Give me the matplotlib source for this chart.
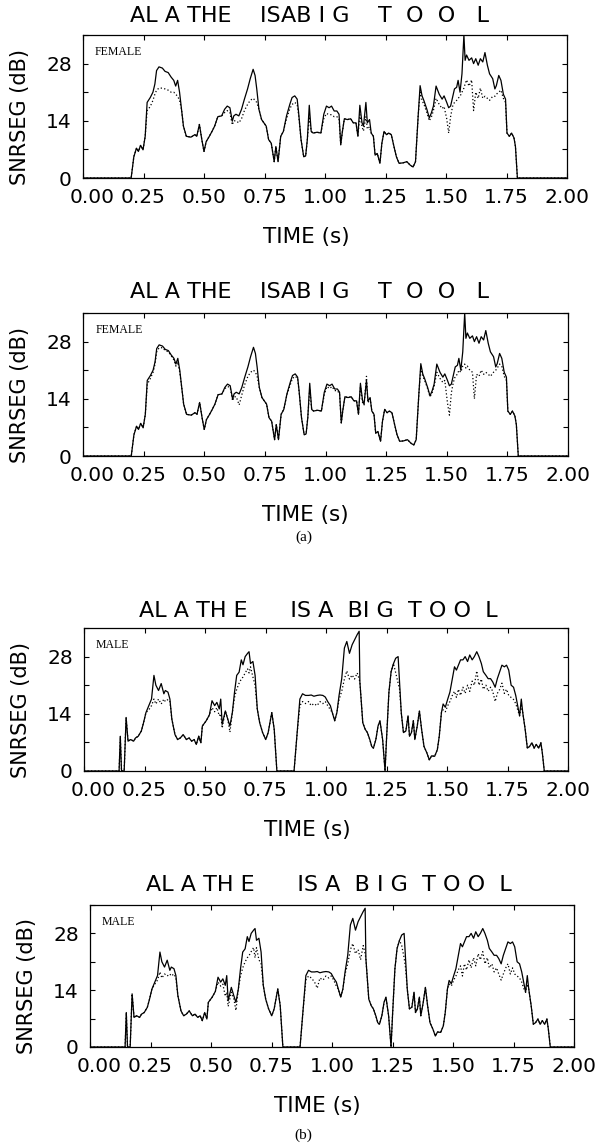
import matplotlib
matplotlib.use("Agg")
import matplotlib.pyplot as plt
from matplotlib.ticker import MultipleLocator
from matplotlib.transforms import ScaledTranslation

# ---------------- data ----------------
F_T = [0.000, 0.199, 0.210, 0.221, 0.229, 0.238, 0.248, 0.257, 0.265, 0.278,
       0.289, 0.297, 0.304, 0.314, 0.328, 0.339, 0.352, 0.364, 0.375, 0.383,
       0.391, 0.399, 0.407, 0.415, 0.427, 0.446, 0.462, 0.470, 0.481, 0.491,
       0.500, 0.509, 0.522, 0.533, 0.544, 0.557, 0.573, 0.585, 0.596, 0.607,
       0.617, 0.623, 0.632, 0.644, 0.655, 0.667, 0.680, 0.691, 0.703, 0.711,
       0.718, 0.727, 0.738, 0.757, 0.767, 0.778, 0.790, 0.797, 0.806, 0.817,
       0.828, 0.841, 0.855, 0.864, 0.875, 0.885, 0.891, 0.901, 0.912, 0.920,
       0.927, 0.935, 0.943, 0.951, 0.967, 0.983, 0.995, 1.006, 1.017, 1.027,
       1.038, 1.049, 1.058, 1.065, 1.071, 1.080, 1.093, 1.106, 1.117, 1.128,
       1.136, 1.144, 1.153, 1.159, 1.169, 1.175, 1.184, 1.191, 1.200, 1.207,
       1.216, 1.227, 1.235, 1.244, 1.254, 1.263, 1.274, 1.285, 1.295, 1.306,
       1.322, 1.338, 1.353, 1.364, 1.374, 1.385, 1.393, 1.401, 1.409, 1.421,
       1.431, 1.440, 1.448, 1.459, 1.472, 1.484, 1.492, 1.503, 1.511, 1.519,
       1.527, 1.535, 1.544, 1.550, 1.558, 1.566, 1.574, 1.579, 1.585, 1.595,
       1.606, 1.614, 1.623, 1.633, 1.642, 1.652, 1.661, 1.671, 1.680, 1.693,
       1.702, 1.708, 1.718, 1.727, 1.737, 1.746, 1.752, 1.762, 1.771, 1.781,
       1.787, 1.795, 2.000]

F_SOLID = [0, 0, 5.2, 7.3, 6.5, 8.0, 6.9, 10.2, 18.5, 19.7,
           21.0, 23.0, 26.3, 27.2, 26.9, 26.1, 25.8, 24.7, 23.9, 22.5,
           23.9, 21.0, 16.8, 12.7, 10.2, 10.0, 10.6, 10.2, 13.1, 9.4,
           6.5, 8.9, 10.2, 11.4, 12.7, 15.0, 15.2, 16.8, 17.6, 17.2,
           13.9, 15.2, 15.6, 15.2, 16.8, 19.3, 21.8, 24.3, 26.6, 25.1,
           21.8, 16.8, 14.3, 12.7, 9.4, 8.5, 4.0, 7.7, 4.0, 10.2,
           11.4, 15.2, 18.1, 19.7, 20.1, 19.3, 16.0, 9.4, 5.2, 5.4,
           9.4, 17.8, 11.4, 11.0, 11.2, 11.0, 15.6, 17.6, 17.2, 17.6,
           16.4, 16.4, 15.6, 8.1, 11.0, 14.5, 14.3, 14.5, 13.5, 13.5,
           10.2, 17.8, 13.5, 12.7, 18.5, 13.5, 14.3, 11.0, 10.2, 5.6,
           6.0, 3.6, 8.5, 11.4, 10.6, 11.0, 10.6, 7.7, 5.2, 3.6,
           3.7, 4.0, 3.1, 2.7, 4.0, 15.2, 22.6, 20.1, 18.9, 16.8,
           14.7, 16.0, 17.6, 22.5, 20.5, 19.3, 20.1, 18.5, 17.2, 17.6,
           19.7, 21.8, 22.2, 23.9, 21.0, 25.5, 35.0, 28.8, 30.1, 28.8,
           29.4, 28.0, 29.2, 27.6, 29.2, 28.4, 30.7, 27.6, 25.5, 24.3,
           21.8, 22.6, 25.1, 23.9, 20.5, 19.3, 11.0, 10.2, 11.0, 9.8,
           7.7, 0, 0]

F1_DOT = [0, 0, 5.2, 7.3, 6.5, 8.0, 6.9, 10.2, 16.5, 17.5,
          19.0, 20.5, 21.5, 22.0, 22.0, 21.8, 21.5, 21.0, 21.0, 20.5,
          20.0, 19.0, 16.8, 12.7, 10.2, 10.0, 10.6, 10.2, 13.1, 9.4,
          6.5, 8.9, 10.2, 11.4, 12.7, 15.0, 15.2, 16.0, 16.5, 16.0,
          13.0, 14.0, 14.0, 13.5, 14.5, 16.5, 18.0, 19.0, 19.5, 19.0,
          18.5, 16.8, 14.3, 12.7, 9.4, 8.5, 4.0, 7.7, 4.0, 10.2,
          11.4, 14.5, 17.0, 18.0, 18.5, 18.0, 15.5, 9.4, 5.2, 5.4,
          9.4, 15.0, 11.4, 11.0, 11.2, 11.0, 14.5, 15.8, 15.5, 15.5,
          15.0, 15.0, 14.5, 8.1, 11.0, 14.5, 14.3, 14.5, 13.5, 13.5,
          10.2, 15.5, 12.5, 11.5, 15.0, 12.0, 12.5, 11.0, 10.2, 5.6,
          6.0, 3.6, 8.5, 11.4, 10.6, 11.0, 10.6, 7.7, 5.2, 3.6,
          3.7, 4.0, 3.1, 2.7, 4.0, 15.2, 21.0, 19.0, 18.0, 16.0,
          14.0, 15.0, 16.5, 19.5, 18.0, 17.0, 17.5, 14.5, 11.0, 15.0,
          17.5, 18.5, 19.0, 19.5, 20.0, 21.0, 22.0, 23.0, 24.0, 22.5,
          24.0, 16.5, 21.0, 19.5, 22.0, 19.5, 20.0, 19.5, 19.0, 20.0,
          20.0, 20.5, 21.0, 21.5, 19.5, 18.5, 11.0, 10.2, 11.0, 9.8,
          7.7, 0, 0]

F2_DOT = [0, 0, 5.2, 7.3, 6.5, 8.0, 6.9, 10.2, 17.5, 19.0,
          20.5, 22.5, 25.5, 26.5, 26.5, 25.8, 25.5, 24.5, 23.5, 22.0,
          23.0, 20.5, 16.8, 12.7, 10.2, 10.0, 10.6, 10.2, 13.1, 9.4,
          6.5, 8.9, 10.2, 11.4, 12.7, 15.0, 15.2, 16.5, 17.0, 16.8,
          13.5, 14.5, 14.5, 12.5, 15.0, 17.5, 19.5, 20.5, 21.0, 20.5,
          19.5, 16.8, 14.3, 12.7, 9.4, 8.5, 4.0, 7.7, 4.0, 10.2,
          11.4, 15.0, 17.5, 19.0, 19.5, 19.0, 15.8, 9.4, 5.2, 5.4,
          9.4, 16.5, 11.4, 11.0, 11.2, 11.0, 15.0, 17.0, 16.5, 17.0,
          16.0, 16.0, 15.2, 8.1, 11.0, 14.5, 14.3, 14.5, 13.5, 13.5,
          10.2, 17.0, 13.0, 12.5, 19.5, 13.0, 14.0, 11.0, 10.2, 5.6,
          6.0, 3.6, 8.5, 11.4, 10.6, 11.0, 10.6, 7.7, 5.2, 3.6,
          3.7, 4.0, 3.1, 2.7, 4.0, 15.2, 21.5, 19.5, 18.5, 16.5,
          14.5, 15.5, 17.0, 20.5, 19.0, 18.0, 18.5, 13.0, 10.0, 15.5,
          18.0, 19.5, 20.0, 21.0, 20.5, 22.0, 22.5, 21.5, 22.0, 21.0,
          20.5, 14.0, 20.0, 19.5, 21.0, 20.0, 20.5, 20.0, 19.5, 20.5,
          21.0, 21.5, 22.5, 22.0, 19.5, 18.5, 11.0, 10.2, 11.0, 9.8,
          7.7, 0, 0]

M_T = [0.000, 0.145, 0.150, 0.155, 0.166, 0.174, 0.182, 0.193, 0.205, 0.213,
       0.224, 0.237, 0.246, 0.256, 0.268, 0.279, 0.289, 0.297, 0.308, 0.319,
       0.330, 0.336, 0.347, 0.355, 0.363, 0.376, 0.387, 0.398, 0.410, 0.423,
       0.434, 0.445, 0.455, 0.464, 0.474, 0.483, 0.489, 0.505, 0.518, 0.529,
       0.540, 0.549, 0.559, 0.565, 0.571, 0.584, 0.594, 0.603, 0.613, 0.622,
       0.631, 0.641, 0.650, 0.657, 0.666, 0.676, 0.682, 0.688, 0.698, 0.707,
       0.716, 0.726, 0.738, 0.751, 0.761, 0.770, 0.776, 0.786, 0.797, 0.868,
       0.881, 0.892, 0.903, 0.915, 0.928, 0.939, 0.950, 0.963, 0.975, 0.987,
       0.997, 1.007, 1.018, 1.026, 1.036, 1.045, 1.054, 1.065, 1.076, 1.086,
       1.097, 1.108, 1.118, 1.129, 1.137, 1.140, 1.146, 1.152, 1.162, 1.171,
       1.181, 1.189, 1.196, 1.206, 1.215, 1.223, 1.234, 1.244, 1.250, 1.260,
       1.269, 1.279, 1.288, 1.298, 1.304, 1.311, 1.320, 1.330, 1.339, 1.345,
       1.353, 1.361, 1.367, 1.377, 1.386, 1.395, 1.405, 1.417, 1.427, 1.436,
       1.449, 1.460, 1.468, 1.477, 1.484, 1.493, 1.503, 1.512, 1.522, 1.531,
       1.539, 1.547, 1.556, 1.566, 1.575, 1.585, 1.594, 1.604, 1.613, 1.623,
       1.632, 1.642, 1.650, 1.661, 1.670, 1.680, 1.689, 1.699, 1.708, 1.718,
       1.727, 1.737, 1.746, 1.755, 1.765, 1.775, 1.784, 1.792, 1.800, 1.807,
       1.813, 1.823, 1.832, 1.841, 1.851, 1.860, 1.869, 1.879, 1.888, 1.894,
       1.902, 2.000]

M_SOLID = [0, 0, 8.5, 0, 0, 13.1, 7.3, 7.7, 7.3, 8.1,
           8.5, 9.8, 11.8, 14.3, 16.0, 17.6, 23.4, 21.0, 19.7, 21.4,
           18.9, 19.7, 19.3, 17.6, 12.7, 8.9, 7.7, 8.1, 8.9, 7.7,
           8.1, 7.3, 7.7, 6.5, 8.5, 6.9, 11.0, 12.3, 13.7, 17.2,
           16.0, 16.8, 15.2, 17.6, 11.4, 14.7, 12.7, 11.0, 14.3, 19.3,
           23.4, 24.2, 27.2, 26.0, 28.0, 28.8, 29.2, 26.3, 26.8, 23.4,
           15.2, 11.8, 9.4, 7.7, 9.4, 12.3, 14.3, 10.2, 0, 0,
           9.4, 17.6, 18.9, 18.5, 18.5, 18.6, 18.3, 18.5, 18.6, 18.5,
           18.1, 17.0, 16.0, 14.3, 12.3, 14.3, 18.5, 22.6, 30.1, 31.7,
           28.8, 30.9, 32.1, 33.4, 34.2, 21.8, 16.8, 11.8, 10.2, 9.4,
           7.7, 6.0, 5.6, 7.7, 11.0, 12.3, 7.7, 0, 7.7, 19.3,
           24.3, 26.3, 27.6, 28.0, 21.8, 14.3, 9.4, 9.8, 13.5, 8.5,
           9.4, 12.3, 7.7, 11.0, 14.7, 10.2, 6.0, 4.4, 2.7, 3.7,
           3.6, 5.2, 8.5, 14.3, 16.4, 15.6, 17.6, 19.3, 22.6, 25.5,
           24.7, 25.9, 27.2, 27.2, 28.0, 26.8, 28.4, 27.2, 28.0, 29.2,
           28.0, 26.3, 24.3, 23.4, 22.6, 22.6, 21.8, 20.5, 22.6, 24.3,
           25.9, 25.5, 25.9, 24.7, 21.0, 20.5, 18.5, 16.0, 13.5, 17.6,
           14.3, 10.2, 5.6, 6.0, 6.9, 5.6, 6.5, 5.6, 6.9, 4.4,
           0, 0]

M1_DOT = [0, 0, 8.5, 0, 0, 13.1, 7.3, 7.7, 7.3, 8.1,
          8.5, 9.8, 11.8, 14.3, 15.0, 16.0, 17.6, 16.4, 17.6, 16.4,
          17.6, 17.0, 17.5, 17.0, 12.7, 8.9, 7.7, 8.1, 8.9, 7.7,
          8.1, 7.3, 7.7, 6.5, 8.5, 6.9, 11.0, 12.3, 13.7, 15.5,
          14.5, 15.5, 13.5, 14.0, 10.5, 14.7, 12.7, 9.5, 14.3, 18.0,
          20.0, 21.5, 22.5, 23.0, 24.0, 25.0, 24.0, 25.5, 23.0, 21.0,
          15.2, 11.8, 9.4, 7.7, 9.4, 12.3, 14.3, 10.2, 0, 0,
          9.4, 16.0, 17.0, 16.5, 17.0, 16.0, 16.5, 16.0, 17.0, 16.5,
          17.0, 16.0, 15.0, 14.3, 12.3, 14.3, 17.5, 19.5, 22.5, 24.5,
          22.5, 23.5, 22.5, 24.0, 22.5, 21.8, 16.8, 11.8, 10.2, 9.4,
          7.7, 6.0, 5.6, 7.7, 11.0, 12.3, 7.7, 0, 7.7, 19.3,
          24.3, 26.3, 24.0, 21.5, 20.0, 14.3, 9.4, 9.8, 13.5, 8.5,
          9.4, 12.3, 7.7, 11.0, 14.7, 10.2, 6.0, 4.4, 2.7, 3.7,
          3.6, 5.2, 8.5, 14.3, 15.0, 14.5, 16.0, 17.0, 18.5, 19.5,
          18.0, 20.0, 18.5, 20.5, 19.0, 21.0, 19.5, 22.0, 21.0, 24.5,
          21.0, 22.5, 20.0, 21.0, 19.5, 20.5, 19.5, 17.0, 19.0, 20.0,
          21.5, 19.0, 20.0, 18.5, 18.0, 17.5, 16.5, 15.0, 13.5, 16.0,
          14.3, 10.2, 5.6, 6.0, 6.9, 5.6, 6.5, 5.6, 6.9, 4.4,
          0, 0]

M2_DOT = [0, 0, 8.5, 0, 0, 13.1, 7.3, 7.7, 7.3, 8.1,
          8.5, 9.8, 11.8, 14.3, 15.5, 16.5, 18.5, 17.0, 18.0, 17.5,
          18.0, 17.5, 18.0, 17.0, 12.7, 8.9, 7.7, 8.1, 8.9, 7.7,
          8.1, 7.3, 7.7, 6.5, 8.5, 6.9, 11.0, 12.3, 13.7, 16.0,
          15.0, 15.5, 12.5, 13.5, 10.0, 13.5, 12.0, 9.0, 14.3, 17.5,
          19.5, 21.0, 22.0, 22.5, 23.5, 24.5, 22.0, 24.5, 21.5, 20.5,
          15.2, 11.8, 9.4, 7.7, 9.4, 12.3, 14.3, 10.2, 0, 0,
          9.4, 16.5, 17.5, 17.0, 16.0, 14.5, 17.0, 16.5, 17.5, 17.0,
          17.5, 16.5, 15.0, 14.3, 12.3, 14.3, 18.0, 20.5, 24.0, 25.5,
          23.0, 24.0, 21.5, 25.0, 23.0, 21.8, 16.8, 11.8, 10.2, 9.4,
          7.7, 6.0, 5.6, 7.7, 11.0, 12.3, 7.7, 0, 7.7, 19.3,
          24.3, 26.3, 25.0, 22.0, 19.5, 14.3, 9.4, 9.8, 13.5, 8.5,
          9.4, 12.3, 7.7, 11.0, 14.7, 10.2, 6.0, 4.4, 2.7, 3.7,
          3.6, 5.2, 8.5, 14.3, 15.5, 15.0, 16.5, 17.5, 19.0, 20.0,
          17.5, 20.5, 19.0, 21.5, 19.5, 22.0, 20.0, 23.0, 21.5, 23.5,
          20.5, 22.0, 19.5, 20.5, 18.5, 19.5, 18.0, 16.5, 18.0, 19.5,
          20.5, 18.0, 19.5, 18.0, 17.5, 17.0, 16.0, 14.5, 13.5, 15.5,
          14.3, 10.2, 5.6, 6.0, 6.9, 5.6, 6.5, 5.6, 6.9, 4.4,
          0, 0]

TITLE_F1 = "AL A THE    ISAB I G    T  O  O   L"
TITLE_F2 = "AL A THE    ISAB I G    T  O  O   L"
TITLE_M1 = "AL A TH E      IS A  BI G  T O O  L"
TITLE_M2 = "AL A TH E      IS A  B I G  T O O  L"
X_TICKS = [0.0, 0.25, 0.5, 0.75, 1.0, 1.25, 1.5, 1.75, 2.0]
X_LABELS = ["0.00", "0.25", "0.50", "0.75", "1.00", "1.25", "1.50", "1.75", "2.00"]
Y_TICKS = [0, 14, 28]
Y_LABELS = ["0", "14", "28"]

# ---------------- figure ----------------
W, H = 599, 1145
fig = plt.figure(figsize=(W / 100, H / 100), dpi=100)
SANS = ["DejaVu Sans"]
SERIF = ["Liberation Serif", "DejaVu Serif"]


def px_axes(l, r, t, b):
    return [l / W, 1 - b / H, (r - l) / W, (b - t) / H]


def panel(rect, t, solid, dot, title, tag, title_x, title_dy, xlab_x):
    ax = fig.add_axes(rect)
    ax.plot(t, dot, color="black", lw=0.9, ls=(0, (1, 1.8)))
    ax.plot(t, solid, color="black", lw=0.9)
    ax.set_xlim(0, 2.0)
    ax.set_ylim(0, 35)
    ax.set_xticks(X_TICKS)
    ax.set_xticklabels(X_LABELS, fontsize=14.5, family=SANS)
    ax.set_yticks(Y_TICKS)
    ax.set_yticklabels(Y_LABELS, fontsize=14.5, family=SANS)
    ax.yaxis.set_minor_locator(MultipleLocator(7))
    ax.tick_params(axis="both", which="both", direction="in", top=True,
                   right=True, length=3.5, width=0.8)
    ax.tick_params(axis="x", pad=7)
    ax.tick_params(axis="y", pad=8)
    first = ax.get_xticklabels()[0]
    first.set_transform(first.get_transform() +
                        ScaledTranslation(9 / 100, 0, fig.dpi_scale_trans))
    for s in ax.spines.values():
        s.set_linewidth(0.9)
    ax.set_ylabel("SNRSEG (dB)", fontsize=15, family=SANS)
    ax.yaxis.set_label_coords(-0.11, 0.43)
    ax.set_xlabel("TIME (s)", fontsize=15.5, family=SANS)
    ax.xaxis.set_label_coords(xlab_x, -0.343)
    ax.text(title_x, 1.0 + title_dy, title, transform=ax.transAxes,
            ha="center", va="center", fontsize=16, family=SANS)
    ax.text(0.025, 0.88, tag, transform=ax.transAxes, ha="left", va="center",
            fontsize=8.5, family=SERIF)
    return ax


panel(px_axes(83, 567, 35, 178), F_T, F_SOLID, F1_DOT, TITLE_F1, "FEMALE",
      0.468, 0.133, 0.461)
panel(px_axes(83, 568, 313, 456), F_T, F_SOLID, F2_DOT, TITLE_F2, "FEMALE",
      0.468, 0.147, 0.458)
panel(px_axes(84, 568, 628, 771), M_T, M_SOLID, M1_DOT, TITLE_M1, "MALE",
      0.485, 0.119, 0.461)
panel(px_axes(90, 574, 905, 1047), M_T, M_SOLID, M2_DOT, TITLE_M2, "MALE",
      0.494, 0.141, 0.470)

fig.text(304 / W, 1 - 537 / H, "(a)", ha="center", va="center",
         fontsize=11, family=SERIF)
fig.text(303 / W, 1 - 1135 / H, "(b)", ha="center", va="center",
         fontsize=11, family=SERIF)

fig.savefig("out.png", dpi=100)
